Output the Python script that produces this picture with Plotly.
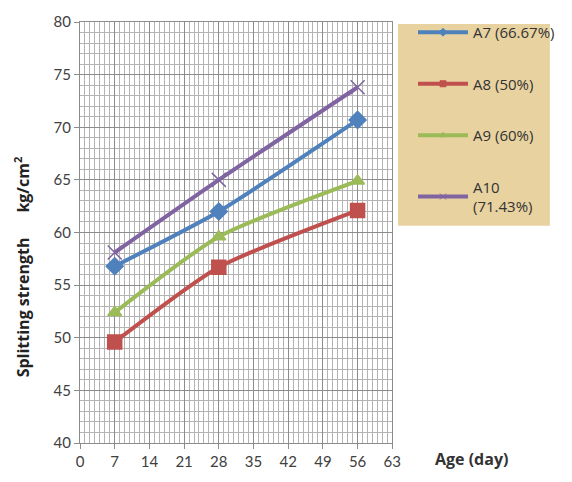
import plotly.graph_objects as go

# Curing age in days
age = [7, 28, 56]

# Splitting tensile strength (kg/cm²) per mix
a7 = [56.8, 62.0, 70.7]
a8 = [49.6, 56.7, 62.1]
a9 = [52.4, 59.6, 64.9]
a10 = [58.1, 65.0, 73.8]

names = ["A7 (66.67%)", "A8 (50%)", "A9 (60%)", "A10<br>(71.43%)"]
colors = ["#4F81BD", "#C0504D", "#9BBB59", "#8064A2"]
symbols = ["diamond", "square", "triangle-up", "x-thin-open"]
sizes = [13, 14, 12, 14]

x_ticks = [0, 7, 14, 21, 28, 35, 42, 49, 56, 63]
y_ticks = [40, 45, 50, 55, 60, 65, 70, 75, 80]

fig = go.Figure()
for i, (name, vals) in enumerate(zip(names, [a7, a8, a9, a10])):
    fig.add_trace(go.Scatter(
        x=age, y=vals, name=name, mode="lines+markers",
        line=dict(color=colors[i], width=4, shape="spline", smoothing=0.6),
        marker=dict(symbol=symbols[i], size=sizes[i], color=colors[i],
                    line=dict(color=colors[i], width=1.5)),
        legendgroup=str(i), showlegend=False,
    ))
    # legend entry with a small marker, as in the spreadsheet legend
    fig.add_trace(go.Scatter(
        x=[None], y=[None], name=name, mode="lines+markers",
        line=dict(color=colors[i], width=4),
        marker=dict(symbol=symbols[i], size=6, color=colors[i],
                    line=dict(color=colors[i], width=1)),
        legendgroup=str(i), showlegend=True,
    ))

font_main = "Lato, 'Open Sans', sans-serif"
font_wide = "'Open Sans', Lato, sans-serif"

fig.update_layout(
    width=572, height=482,
    margin=dict(l=80, r=165, t=15, b=35),
    paper_bgcolor="white", plot_bgcolor="white",
    font=dict(family=font_main, size=14, color="#404040"),
    showlegend=True,
    legend=dict(
        xref="container", yref="container",
        x=413 / 572, y=1 - 16 / 482, xanchor="left", yanchor="top",
        bgcolor="rgba(0,0,0,0)", borderwidth=0,
        traceorder="grouped", tracegroupgap=29,
        itemwidth=50,
        font=dict(family=font_wide, size=15, color="#333333"),
    ),
    xaxis=dict(
        range=[0, 63], tickvals=x_ticks, ticktext=[str(v) for v in x_ticks],
        showgrid=True, gridcolor="#8c8c8c", gridwidth=1,
        minor=dict(dtick=1, tick0=0, showgrid=True, gridcolor="#b3b3b3", gridwidth=1),
        ticks="outside", ticklen=5, tickcolor="#8c8c8c",
        showline=True, linecolor="#8c8c8c", linewidth=1, mirror=True,
        zeroline=False, tickfont=dict(size=15),
    ),
    yaxis=dict(
        range=[40, 80], tickvals=y_ticks,
        showgrid=True, gridcolor="#8c8c8c", gridwidth=1,
        minor=dict(dtick=1, tick0=40, showgrid=True, gridcolor="#b3b3b3", gridwidth=1),
        ticks="outside", ticklen=5, tickcolor="#8c8c8c",
        showline=True, linecolor="#8c8c8c", linewidth=1, mirror=True,
        zeroline=False, tickfont=dict(size=15),
    ),
    shapes=[dict(
        type="rect", xref="paper", yref="paper",
        x0=(413 - 80) / 327, x1=(572 - 80) / 327,
        y0=(447 - 224) / 432, y1=(447 - 17) / 432,
        fillcolor="#E8D2A0", line=dict(width=0), layer="below",
    )],
    annotations=[
        dict(text="<b>Splitting strength      kg/cm<sup>2</sup></b>",
             xref="paper", yref="paper", x=(19 - 80) / 327, y=(447 - 266) / 432,
             textangle=-90, showarrow=False, xanchor="center", yanchor="middle",
             font=dict(family=font_wide, size=16, color="#222222")),
        dict(text="<b>Age (day)</b>",
             xref="paper", yref="paper", x=(490 - 80) / 327, y=(447 - 463) / 432,
             showarrow=False, xanchor="center", yanchor="middle",
             font=dict(family=font_wide, size=16, color="#333333")),
    ],
)

fig.write_html("out.html")
